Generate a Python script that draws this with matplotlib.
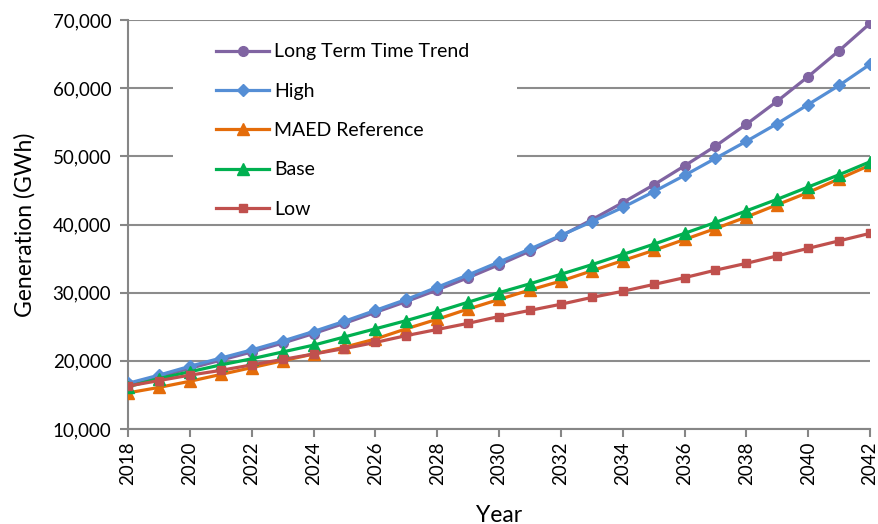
import numpy as np
import matplotlib.pyplot as plt
from matplotlib.patches import Rectangle
from matplotlib.ticker import FuncFormatter

plt.rcParams['font.family'] = ['Lato', 'DejaVu Sans']

years = list(range(2018, 2043))

long_term = [16600, 17700, 18900, 20100, 21300, 22600, 24000, 25500, 27100, 28700,
             30400, 32200, 34100, 36100, 38300, 40700, 43200, 45800, 48600, 51500,
             54700, 58100, 61700, 65500, 69500]
high = [16700, 17900, 19200, 20400, 21600, 22900, 24300, 25800, 27400, 29000,
        30800, 32600, 34500, 36400, 38400, 40400, 42500, 44800, 47200, 49700,
        52200, 54800, 57600, 60400, 63500]
maed = [15300, 16100, 17000, 18000, 19000, 20000, 21000, 22000, 23200, 24700,
        26100, 27600, 29000, 30400, 31700, 33200, 34700, 36200, 37800, 39400,
        41100, 42900, 44700, 46700, 48700]
base = [16200, 17400, 18400, 19400, 20300, 21300, 22300, 23500, 24700, 25900,
        27200, 28600, 30000, 31300, 32700, 34100, 35600, 37100, 38700, 40300,
        42000, 43700, 45500, 47300, 49200]
low = [16300, 17100, 17900, 18600, 19400, 20200, 21000, 21800, 22700, 23700,
       24600, 25500, 26500, 27400, 28300, 29300, 30200, 31200, 32200, 33300,
       34300, 35400, 36500, 37600, 38700]

series = [
    ('Long Term Time Trend', long_term, '#8064A2', 'o', 7),
    ('High', high, '#558ED5', 'D', 6),
    ('MAED Reference', maed, '#E46C0A', '^', 8),
    ('Base', base, '#00B050', '^', 8),
    ('Low', low, '#C0504D', 's', 5.5),
]

fig = plt.figure(figsize=(8.79, 5.24), dpi=100)
ax = fig.add_axes([128 / 879, 1 - 429 / 524, 742 / 879, 409 / 524])

for name, vals, col, mk, ms in series:
    ax.plot(years, vals, color=col, marker=mk, markersize=ms, linewidth=2.3,
            label=name, zorder=3)

ax.set_xlim(2018, 2042)
ax.set_ylim(10000, 70000)
ax.set_xticks(range(2018, 2043, 2))
ax.set_yticks(range(10000, 70001, 10000))
ax.yaxis.set_major_formatter(FuncFormatter(lambda v, p: f'{int(v):,}'))
ax.tick_params(axis='x', labelrotation=90, labelsize=13.5, length=6, width=1.5,
               color='#868686', pad=3)
ax.tick_params(axis='y', labelsize=13.5, length=6, width=1.5, color='#868686', pad=6)

ax.grid(axis='y', color='#8c8c8c', linewidth=1.5)
ax.set_axisbelow(True)
for side in ['top', 'right']:
    ax.spines[side].set_visible(False)
for side in ['left', 'bottom']:
    ax.spines[side].set_color('#868686')
    ax.spines[side].set_linewidth(1.5)

ax.set_ylabel('Generation (GWh)', fontsize=16.5, labelpad=12)
ax.set_xlabel('Year', fontsize=16.5, labelpad=14)

# white legend area hides the gridlines behind it
ax.add_patch(Rectangle((0.061, 0.51), 0.463, 0.48, transform=ax.transAxes,
                       facecolor='white', edgecolor='none', zorder=1))
ax.legend(loc='upper left', bbox_to_anchor=(0.1186, 0.943), frameon=False,
          fontsize=14, handlelength=2.75, handletextpad=0.25, labelspacing=1.15,
          borderpad=0, borderaxespad=0)

fig.savefig('out.png', dpi=100)
